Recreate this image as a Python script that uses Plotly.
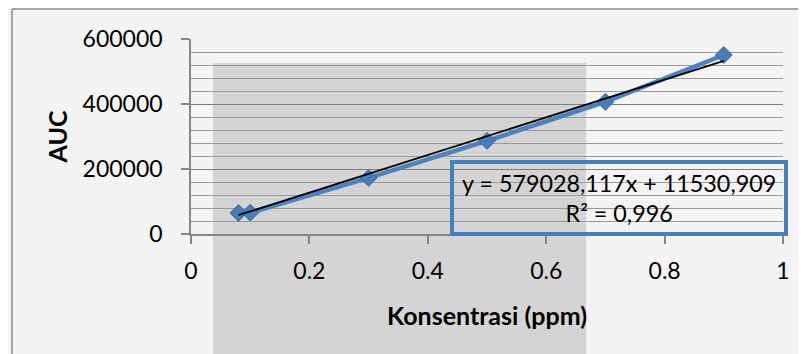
import plotly.graph_objects as go

# Data
konsentrasi = [0.08, 0.1, 0.3, 0.5, 0.7, 0.9]
auc = [64700, 65500, 172600, 286600, 406800, 550700]

# Linear trendline as printed on the chart
slope = 579028.117
intercept = 11530.909
r_squared = 0.996
trend_x = [konsentrasi[0], konsentrasi[-1]]
trend_y = [slope * v + intercept for v in trend_x]

eq_text = "y = 579028,117x + 11530,909<br>R² = 0,996"

x_title = "Konsentrasi (ppm)"
y_title = "AUC"

FONT = "Lato"

fig = go.Figure()
fig.add_trace(go.Scatter(
    x=konsentrasi, y=auc, mode="lines+markers",
    line=dict(color="#4f81bd", width=4.5),
    marker=dict(symbol="diamond", size=13, color="#4a7cb8",
                line=dict(color="#3a6698", width=1)),
    showlegend=False,
))
fig.add_trace(go.Scatter(
    x=trend_x, y=trend_y, mode="lines",
    line=dict(color="#000000", width=1.8),
    showlegend=False,
))

# page has an 8px body margin; target page pixels of the plot area
OFF = 8
PL, PR, PT, PB = 191, 783, 39, 234  # plot area in page pixels
W, H = 806 - OFF, 354 - OFF
L, T = PL - OFF, PT - OFF
R = (W + OFF) - PR
B = (H + OFF) - PB
pw, ph = PR - PL, PB - PT

def px(x):
    return (x - PL) / pw

def py(y):
    return (PB - y) / ph

shapes = [
    # watermark grey block
    dict(type="rect", xref="paper", yref="paper",
         x0=px(213), x1=px(586), y0=py(360), y1=py(63),
         fillcolor="#d4d4d4", line=dict(width=0), layer="below"),
    # chart area border (left and top)
    dict(type="line", xref="paper", yref="paper",
         x0=px(12), x1=px(12), y0=py(9), y1=py(360),
         line=dict(color="#8c8c8c", width=1.5), layer="below"),
    dict(type="line", xref="paper", yref="paper",
         x0=px(12), x1=px(812), y0=py(9), y1=py(9),
         line=dict(color="#8c8c8c", width=1.5), layer="below"),
    # equation box
    dict(type="rect", xref="paper", yref="paper",
         x0=px(452), x1=px(786), y0=py(234), y1=py(162),
         fillcolor="rgba(0,0,0,0)", line=dict(color="#4a7ebb", width=4),
         layer="above"),
]

fig.update_layout(
    width=W, height=H,
    margin=dict(l=L, r=R, t=T, b=B),
    paper_bgcolor="#f4f4f4",
    plot_bgcolor="rgba(0,0,0,0)",
    font=dict(family=FONT, color="#000000", size=23),
    shapes=shapes,
    annotations=[dict(
        xref="paper", yref="paper", x=px(619), y=py(198),
        text=eq_text, showarrow=False, align="center",
        font=dict(family=FONT, size=23.3, color="#000000"),
        xanchor="center", yanchor="middle",
    )],
)
fig.update_xaxes(
    range=[0, 1], dtick=0.2, showgrid=False, zeroline=False,
    showline=True, linecolor="#868686", linewidth=1.5,
    ticks="outside", ticklen=8, tickcolor="#868686", tickwidth=1.5,
    ticklabelstandoff=8,
    tickfont=dict(family=FONT, size=23),
    title=dict(text="<b>" + x_title + "</b>", font=dict(family=FONT, size=25), standoff=24),
)
fig.update_yaxes(
    range=[0, 600000], dtick=200000, tickformat="d",
    showgrid=True, gridcolor="#7f7f7f", gridwidth=1.2,
    minor=dict(dtick=40000, showgrid=True, gridcolor="#9a9a9a", gridwidth=1),
    zeroline=False,
    showline=True, linecolor="#868686", linewidth=1.5,
    ticks="outside", ticklen=8, tickcolor="#868686", tickwidth=1.5,
    ticklabelstandoff=14,
    tickfont=dict(family=FONT, size=23),
    title=dict(text="<b>" + y_title + "</b>", font=dict(family=FONT, size=25), standoff=8),
)

fig.write_html("out.html")
